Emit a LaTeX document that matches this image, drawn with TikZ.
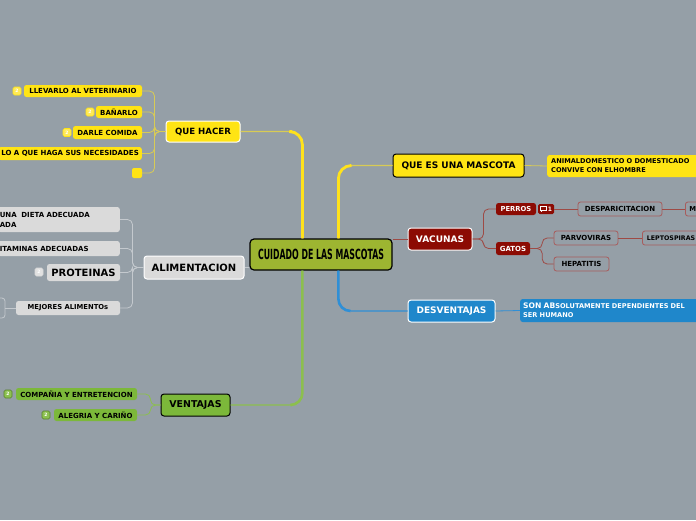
\documentclass[tikz,border=0pt]{standalone}
\usepackage{fontspec}
\setmainfont{DejaVu Sans}
\usetikzlibrary{calc}
\definecolor{bg}{HTML}{959FA7}
\definecolor{cyel}{HTML}{FFE414}
\definecolor{cyelline}{HTML}{D8CB55}
\definecolor{cyelbr}{HTML}{FFE21C}
\definecolor{cicony}{HTML}{FFEA55}
\definecolor{cred}{HTML}{8C0B03}
\definecolor{credline}{HTML}{9E4A45}
\definecolor{credbox}{HTML}{A85C5C}
\definecolor{cblue}{HTML}{1F87CB}
\definecolor{cblueline}{HTML}{2F8FD6}
\definecolor{cgray}{HTML}{DADADA}
\definecolor{cgrayline}{HTML}{C4C9CE}
\definecolor{cgreen}{HTML}{7CB83A}
\definecolor{cgreenline}{HTML}{8CBF4E}
\definecolor{cicong}{HTML}{8CC150}
\definecolor{croot}{HTML}{9DB531}
\newcommand\pxfont[2]{\fontsize{#1}{#2}\selectfont\bfseries}
\begin{document}
\begin{tikzpicture}[x=1pt,y=-1pt,
  box/.style={rounded corners=3, inner sep=0pt, align=center},
  lone/.style={box, line width=1, font=\pxfont{9}{11}},
  ltwo/.style={box, rounded corners=2.5, font=\pxfont{7}{9}},
  icn/.style={rounded corners=1.5, minimum size=8, inner sep=0pt, line width=0.6, text=white, font=\pxfont{4.5}{5}},
  cq/.style={cyelline, line width=0.8, rounded corners=5},
  ca/.style={cgrayline, line width=0.8, rounded corners=5},
  cv/.style={cgreenline, line width=0.8, rounded corners=5},
  cr/.style={credline, line width=0.8, rounded corners=5},
  cb/.style={cblueline, line width=0.8},
  vbox/.style={ltwo, fill=bg, draw=credbox, line width=0.8, minimum height=14}
]
\useasboundingbox[fill=bg] (0,0) rectangle (696,520);

% ---------- root ----------
\node[box, rounded corners=4, fill=croot, draw=black, line width=1.2, minimum width=142, minimum height=31, font=\pxfont{14}{16}] (root) at (321,254.5) {\scalebox{0.56}[1]{CUIDADO DE LAS MASCOTAS}};

% ---------- level 1 ----------
\node[lone, fill=cyel, draw=white, minimum width=74, minimum height=21, font=\pxfont{8.6}{10}] (qh) at (203,131.5) {QUE HACER};
\node[lone, fill=cyel, draw=black, minimum width=131, minimum height=23] (qe) at (458.5,165.5) {QUE ES UNA MASCOTA};
\node[lone, fill=cred, draw=white, text=white, minimum width=64, minimum height=22] (vac) at (440,239) {VACUNAS};
\node[lone, fill=cblue, draw=white, text=white, minimum width=87, minimum height=22] (des) at (451.5,311) {DESVENTAJAS};
\node[lone, fill=cgray, draw=white, minimum width=100, minimum height=23, font=\pxfont{10}{12}] (ali) at (194,267.5) {ALIMENTACION};
\node[lone, fill=cgreen, draw=black, minimum width=69, minimum height=22, font=\pxfont{9.4}{11}] (ven) at (195.5,405) {VENTAJAS};

% ---------- main branches ----------
\draw[cyelline, line width=1.1, rounded corners=14] ($(root.north west)+(53,0)$) |- (qh.east);
\draw[cyelbr, line width=2.8, rounded corners=13] ($(root.north west)+(53,0)$) |- (292,131.5);
\draw[cyelline, line width=1.1, rounded corners=14] ($(root.north west)+(89,0)$) |- (qe.west);
\draw[cyelbr, line width=2.8, rounded corners=13] ($(root.north west)+(89,0)$) |- (350,165.5);
\draw[credline, line width=1] (root.east |- vac.west) -- (vac.west);
\draw[cblueline, line width=1.1, rounded corners=13] ($(root.south west)+(89,0)$) |- (des.west);
\draw[cblueline, line width=2.6, rounded corners=12] ($(root.south west)+(89,0)$) |- (350,311);
\draw[cgrayline, line width=1.2] (root.west |- ali.east) -- (ali.east);
\draw[cgreenline, line width=1.1, rounded corners=13] ($(root.south west)+(53,0)$) |- (ven.east);
\draw[cgreenline, line width=2.6, rounded corners=12] ($(root.south west)+(53,0)$) |- (292,405);

% ---------- QUE HACER children ----------
\node[ltwo, fill=cyel, minimum width=118, minimum height=12] (vet) at (83,91) {LLEVARLO AL VETERINARIO};
\node[ltwo, fill=cyel, minimum width=46, minimum height=12] (ban) at (119,112) {BAÑARLO};
\node[ltwo, fill=cyel, minimum width=69, minimum height=13] (com) at (107.5,132.5) {DARLE COMIDA};
\node[ltwo, fill=cyel, anchor=east, inner xsep=3, minimum height=13] (nec) at (142,153.5) {LO A QUE HAGA SUS NECESIDADES};
\node[box, rounded corners=2, fill=cyel, minimum size=10] (emp) at (137,173) {};
\node[icn, fill=cicony, draw=cyel] (i1) at (17,91) {2};
\node[icn, fill=cicony, draw=cyel] (i2) at (90,112) {2};
\node[icn, fill=cicony, draw=cyel] (i3) at (67,132.5) {2};
\foreach \c in {vet,ban,com,nec,emp}
  \draw[cq] (qh.west) -- ++(-11,0) |- (\c.east);

% ---------- ALIMENTACION children ----------
\node[ltwo, fill=cgray, anchor=east, minimum height=25, text width=118, inner xsep=2, align=left, font=\pxfont{7}{10}] (die) at (120,219.5) {UNA\ \ DIETA ADECUADA\\ADA};
\node[ltwo, fill=cgray, anchor=east, minimum height=15, text width=118, inner xsep=2, align=left] (vit) at (120,248.5) {ITAMINAS ADECUADAS};
\node[ltwo, fill=cgray, minimum width=73, minimum height=17, font=\pxfont{10}{12}] (pro) at (83.5,272.5) {PROTEINAS};
\node[icn, fill=cgray!80!white, draw=cgray] (i4) at (39,272) {2};
\node[ltwo, fill=cgray, minimum width=104, minimum height=14, font=\pxfont{6.8}{8}] (mej) at (68,308) {MEJORES ALIMENTOs};
\node[box, rounded corners=3, draw=cgrayline, line width=0.8, minimum width=16, minimum height=20] (mejc) at (-3,308) {};
\foreach \c in {die,vit,pro,mej}
  \draw[ca] (ali.west) -- ++(-11,0) |- (\c.east);
\draw[ca] (mej.west) -- (mejc.east);

% ---------- VENTAJAS children ----------
\node[ltwo, fill=cgreen, minimum width=121, minimum height=12] (cmp) at (76.5,394) {COMPAÑIA Y ENTRETENCION};
\node[ltwo, fill=cgreen, minimum width=83, minimum height=12] (ale) at (95.5,415) {ALEGRIA Y CARIÑO};
\node[icn, fill=cicong, draw=cgreen!70!black] (i5) at (8,394) {2};
\node[icn, fill=cicong, draw=cgreen!70!black] (i6) at (46,415) {2};
\foreach \c in {cmp,ale}
  \draw[cv] (ven.west) -- ++(-10,0) |- (\c.east);

% ---------- QUE ES UNA MASCOTA child ----------
\node[ltwo, fill=cyel, anchor=west, minimum height=22, text width=152, inner xsep=4, align=left, font=\pxfont{6.6}{9}] (ani) at (547,166) {ANIMALDOMESTICO O DOMESTICADO\\CONVIVE CON ELHOMBRE};
\draw[cq] (qe.east) -- (ani.west);

% ---------- VACUNAS children ----------
\node[ltwo, fill=cred, text=white, minimum width=40, minimum height=12, font=\pxfont{6.8}{8}] (per) at (516,209) {PERROS};
\node[box, rounded corners=1.5, fill=cred, minimum width=16, minimum height=10] (cmt) at (546,209) {};
\draw[white, line width=0.7] ($(cmt.center)+(-5.5,-2.2)$) rectangle ($(cmt.center)+(0.5,1.2)$);
\draw[white, line width=0.7] ($(cmt.center)+(-4,1.2)$) -- ($(cmt.center)+(-4.8,2.8)$);
\node[text=white, inner sep=0pt, font=\pxfont{6}{7}] (cmtn) at ($(cmt.center)+(4,0)$) {1};
\node[ltwo, fill=cred, text=white, minimum width=34, minimum height=13] (gat) at (513,248.5) {GATOS};
\node[vbox, minimum width=84] (dsp) at (620,209) {DESPARICITACION};
\node[vbox, anchor=west, inner xsep=0pt, text width=20, align=left, font=\pxfont{6.8}{8}] (mm) at (685,209) {\hspace*{4pt}M};
\node[vbox, minimum width=64] (par) at (586,238) {PARVOVIRAS};
\node[vbox, minimum width=55] (hep) at (581.5,264) {HEPATITIS};
\node[vbox, anchor=west, inner xsep=0pt, text width=62, align=left, font=\pxfont{6.3}{8}] (lep) at (642,238) {\hspace*{4.5pt}LEPTOSPIRAS};
\foreach \c in {per,gat}
  \draw[cr] (vac.east) -- ++(11,0) |- (\c.west);
\foreach \c in {par,hep}
  \draw[cr] (gat.east) -- ++(12,0) |- (\c.west);
\draw[cr] (cmt.east) -- (dsp.west);
\draw[cr] (dsp.east) -- (mm.west);
\draw[cr] (par.east) -- (lep.west);

% ---------- DESVENTAJAS child ----------
\node[ltwo, fill=cblue, text=white, anchor=west, minimum height=23, text width=176, inner xsep=3, align=left, font=\pxfont{6.6}{9}] (son) at (520,310.5) {{\fontsize{7.6}{9}\selectfont SON AB}SOLUTAMENTE DEPENDIENTES DEL\\SER HUMANO};
\draw[cb] (des.east) -- (son.west);
\end{tikzpicture}
\end{document}
